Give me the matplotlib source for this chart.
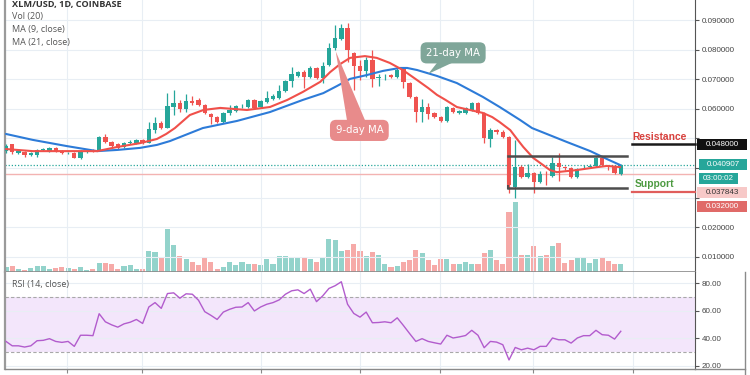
import matplotlib
matplotlib.use('Agg')
import matplotlib.pyplot as plt
import numpy as np
from matplotlib.patches import Rectangle, Polygon
from matplotlib.lines import Line2D

# ---------------- data ----------------
opens = [.0457, .0481, .0451, .0454, .0444, .0444, .0461, .0457, .0468, .0457,
         .0449, .0451, .0434, .0454, .0461, .0457, .0505, .0488, .0481, .0471,
         .0484, .0484, .0495, .0484, .0528, .0552, .0535, .0606, .0620, .0599,
         .0625, .0630, .0613, .0582, .0572, .0555, .0586, .0593, .0608, .0606,
         .0630, .0606, .0623, .0633, .0636, .0660, .0694, .0711, .0724, .0707,
         .0738, .0704, .0748, .0805, .0836, .0873, .0789, .0745, .0728, .0765,
         .0704, .0706, .0714, .0707, .0734, .0687, .0640, .0589, .0606, .0586,
         .0572, .0559, .0603, .0587, .0586, .0596, .0620, .0586, .0498, .0528,
         .0522, .0505, .0336, .0403, .0370, .0383, .0353, .0378, .0373, .0417,
         .0402, .0400, .0370, .0402, .0405, .0407, .0434, .0405, .0403, .0380]
highs = [.0481, .0481, .0461, .0457, .0454, .0464, .0468, .0471, .0471, .0461,
         .0454, .0454, .0461, .0461, .0464, .0508, .0515, .0491, .0484, .0488,
         .0495, .0498, .0498, .0555, .0572, .0559, .0653, .0664, .0630, .0650,
         .0643, .0636, .0616, .0586, .0576, .0589, .0613, .0613, .0616, .0633,
         .0633, .0630, .0660, .0650, .0680, .0697, .0741, .0728, .0731, .0745,
         .0741, .0758, .0822, .0883, .0886, .0890, .0792, .0765, .0775, .0799,
         .0718, .0718, .0718, .0738, .0738, .0691, .0643, .0633, .0620, .0589,
         .0576, .0609, .0606, .0596, .0606, .0623, .0623, .0589, .0535, .0532,
         .0528, .0508, .0495, .0410, .0414, .0386, .0390, .0390, .0437, .0451,
         .0407, .0403, .0400, .0410, .0414, .0437, .0437, .0407, .0407, .0414]
lows = [.0451, .0447, .0447, .0437, .0441, .0437, .0457, .0454, .0454, .0447,
        .0447, .0434, .0430, .0451, .0454, .0456, .0484, .0471, .0464, .0468,
        .0481, .0481, .0481, .0484, .0518, .0532, .0535, .0579, .0589, .0589,
        .0613, .0609, .0582, .0549, .0552, .0552, .0579, .0589, .0603, .0603,
        .0599, .0603, .0620, .0630, .0633, .0657, .0674, .0707, .0670, .0704,
        .0701, .0687, .0745, .0799, .0832, .0758, .0664, .0697, .0707, .0674,
        .0677, .0697, .0704, .0704, .0670, .0636, .0555, .0555, .0566, .0569,
        .0555, .0555, .0586, .0582, .0582, .0593, .0582, .0484, .0471, .0515,
        .0501, .0316, .0299, .0366, .0366, .0316, .0349, .0343, .0370, .0356,
        .0393, .0366, .0366, .0400, .0403, .0403, .0407, .0393, .0380, .0376]
closes = [.0474, .0454, .0457, .0444, .0451, .0461, .0464, .0468, .0457, .0451,
          .0452, .0434, .0457, .0457, .0457, .0505, .0488, .0474, .0468, .0484,
          .0488, .0495, .0484, .0532, .0552, .0535, .0609, .0620, .0599, .0626,
          .0621, .0613, .0586, .0572, .0555, .0586, .0596, .0609, .0611, .0630,
          .0603, .0626, .0636, .0643, .0660, .0694, .0718, .0724, .0707, .0738,
          .0704, .0745, .0805, .0839, .0873, .0799, .0745, .0728, .0765, .0701,
          .0707, .0709, .0707, .0731, .0691, .0640, .0589, .0606, .0582, .0572,
          .0559, .0606, .0589, .0591, .0603, .0620, .0586, .0501, .0528, .0522,
          .0505, .0343, .0403, .0370, .0383, .0353, .0380, .0375, .0417, .0403,
          .0399, .0370, .0397, .0405, .0408, .0434, .0410, .0402, .0383, .0409]
volumes = [5, 6, 2.7, 2.3, 4.3, 5.7, 5.7, 3.3, 3.7, 4.7,
           3.7, 3.3, 5, 2.3, 3, 9.3, 9, 7.7, 3.3, 5.7,
           7.3, 2.7, 2.7, 21.3, 19.7, 14, 42.7, 26.7, 16, 13.3,
           9.7, 7, 13.7, 10.3, 3.3, 4.7, 9.7, 7.3, 9.7, 8.3,
           7.7, 6.7, 12.7, 7.7, 16.3, 16.3, 14, 14, 14, 12.7,
           10, 14, 33.3, 32.3, 20.7, 21.7, 27.7, 20.7, 16, 19.7,
           17, 8.3, 5, 5.7, 10, 12.3, 22.3, 19, 11.7, 7.3,
           13, 12.7, 8.3, 8.3, 10.3, 7.7, 7.7, 19.3, 21.7, 11.7,
           8.3, 60, 70, 16.7, 16.7, 25.7, 15.7, 16.7, 25.7, 29,
           9, 12.3, 15, 15, 9, 13.3, 15, 11, 7.7, 8.3]
rsi = [37.7, 34.5, 34.5, 33.6, 34.5, 38.2, 38.5, 39.7, 37.7, 37.0,
       37.7, 34.1, 42.2, 42.2, 41.9, 57.9, 52.0, 49.8, 48.1, 50.5,
       51.7, 53.7, 50.8, 62.8, 66.0, 61.8, 72.6, 73.1, 69.2, 72.4,
       72.1, 67.7, 59.4, 56.7, 53.7, 59.1, 61.1, 62.6, 62.8, 66.0,
       59.9, 62.8, 64.8, 66.0, 68.0, 72.1, 74.6, 75.3, 72.6, 75.8,
       66.7, 70.9, 76.3, 78.3, 81.2, 64.8, 58.1, 55.4, 59.1, 51.3,
       51.5, 52.0, 51.3, 54.9, 49.3, 43.4, 37.7, 39.7, 37.7, 36.7,
       35.8, 42.2, 40.2, 41.0, 42.0, 45.8, 42.2, 33.1, 37.7, 37.2,
       35.3, 24.2, 33.3, 31.6, 32.8, 31.6, 34.1, 34.1, 40.2, 38.9,
       38.9, 36.5, 40.2, 41.9, 41.9, 45.8, 42.6, 42.2, 39.4, 45.1]
ma9_x = [0, 4.3, 9.8, 14.7, 17.9, 21.6, 24.3, 25.8, 27.2, 29.6, 31.8, 34.5, 38.8, 42.5, 45.3,
         47.8, 50.6, 52.2, 53.8, 55.4, 57.8, 59.7, 61.8, 63.9, 66.2, 68.0, 69.4, 70.7, 72.6, 74.7,
         76.8, 78.3, 79.5, 81.2, 82.4, 83.3, 84.9, 87.6, 88.7, 91.9, 95.2, 96.8, 98.9]
ma9 = [.0464, .0457, .0457, .0457, .0471, .0484, .0498, .0515, .0535, .0579, .0596, .0603, .0596, .0606, .0630,
       .0657, .0691, .0724, .0751, .0772, .0778, .0772, .0755, .0731, .0697, .0670, .0647, .0631, .0606, .0596,
       .0586, .0572, .0555, .0528, .0495, .0471, .0434, .0393, .0386, .0393, .0403, .0407, .0403]
ma21_x = [0, 4.3, 9.8, 14.7, 17.9, 21.6, 24.3, 26.4, 31.7, 37.2, 42.5, 47.8, 51.1, 53.3, 55.4,
          58.1, 60.7, 63.4, 64.6, 66.2, 69.4, 72.6, 76.8, 79.5, 82.8, 84.7, 90.3, 94.1, 96.8, 98.9]
ma21 = [.0515, .0495, .0474, .0457, .0461, .0468, .0478, .0491, .0535, .0559, .0589, .0630, .0653, .0677, .0701,
        .0714, .0728, .0738, .0738, .0731, .0711, .0687, .0640, .0606, .0562, .0535, .0488, .0457, .0430, .0410]
price_ticks = [0.01, 0.02, 0.03, 0.04, 0.05, 0.06, 0.07, 0.08, 0.09]
price_labels = ['0.010000', '0.020000', '', '', '', '0.060000', '0.070000', '0.080000', '0.090000']
rsi_ticks = [20, 40, 60, 80]
rsi_labels = ['20.00', '40.00', '60.00', '80.00']
date_grid = [9.8, 21.9, 41.1, 57.0, 69.9, 84.9, 101.0]
last_price = 0.040907
level_pink = 0.037843
resistance = 0.048
support = 0.032
channel_top, channel_bottom = 0.0441, 0.0332
channel_x0, channel_x1 = 80.8, 100.0
countdown = '03:00:02'

# ---------------- style ----------------
W, H = 750, 375
GREEN, RED = '#26a69a', '#ef5350'
VGREEN, VRED = '#93d3cb', '#f6aaa8'
GRID = '#e8eef4'
LBL = 'Liberation Sans'

fig = plt.figure(figsize=(7.5, 3.75), dpi=100)
fig.patch.set_facecolor('white')

def fx(x):
    return x / W

def fy(y):
    return 1 - y / H

L, R = 5, 695
MT, MB = 0, 272
RT, RB = 272, 369
ymin, ymax = 0.004865, 0.096757
xmin, xmax = -0.161, 110.95

axv = fig.add_axes([fx(L), fy(MB), (R - L) / W, (MB - MT) / H])
ax = fig.add_axes([fx(L), fy(MB), (R - L) / W, (MB - MT) / H])
axr = fig.add_axes([fx(L), fy(RB), (R - L) / W, (RB - RT) / H])
ax.patch.set_visible(False)

o = np.array(opens); h = np.array(highs); lo = np.array(lows); c = np.array(closes)
idx = np.arange(len(c))
up = c >= o
col = np.where(up, GREEN, RED)
vcol = np.where(up, VGREEN, VRED)

# volume
axv.bar(idx, volumes, width=0.82, color=vcol, linewidth=0)
axv.set_xlim(xmin, xmax)
axv.set_ylim(0, 272)
axv.axis('off')

# grid
for g in price_ticks:
    ax.axhline(g, color=GRID, lw=0.8, zorder=0)
for g in date_grid:
    ax.axvline(g, color=GRID, lw=0.8, zorder=0)
    axr.axvline(g, color=GRID, lw=0.8, zorder=0)

# level lines
ax.axhline(level_pink, color='#f3b3b2', lw=1.0, zorder=1)
ax.axhline(last_price, color=GREEN, lw=0.9, ls=(0, (1, 1.5)), zorder=1)

# candles
ax.vlines(idx, lo, h, colors=col, lw=0.9, zorder=3)
body_bot = np.minimum(o, c)
body_h = np.maximum(np.abs(c - o), 0.0003)
ax.bar(idx, body_h, bottom=body_bot, width=0.7, color=col, linewidth=0, zorder=4)

# moving averages
ax.plot(ma21_x, ma21, color='#2d7bd8', lw=1.5, zorder=5, solid_capstyle='round')
ax.plot(ma9_x, ma9, color='#f0504a', lw=1.5, zorder=5, solid_capstyle='round')

# channel
ax.plot([channel_x0, channel_x1], [channel_top, channel_top], color='#4d4d4d', lw=1.8, zorder=6)
ax.plot([channel_x0, channel_x1], [channel_bottom, channel_bottom], color='#4d4d4d', lw=1.8, zorder=6)
ax.plot([channel_x0, channel_x0], [channel_bottom, channel_top], color='#4d4d4d', lw=1.5, zorder=2)

# resistance / support
ax.plot([100.8, xmax], [resistance, resistance], color='#1a1a1a', lw=1.8, zorder=6, clip_on=False)
ax.plot([100.8, xmax], [support, support], color='#e05e5c', lw=1.6, zorder=6, clip_on=False)
ax.text(105.3, 0.0504, 'Resistance', color='#d8403c', fontsize=7.4, fontweight='bold',
        family=LBL, ha='center', va='center', zorder=7)
ax.text(104.5, 0.0346, 'Support', color='#4c9a40', fontsize=7.4, fontweight='bold',
        family=LBL, ha='center', va='center', zorder=7)

# MA callouts
ax.add_patch(Polygon([(69.4, 0.0755), (71.8, 0.0755), (68.0, 0.0718)], closed=True,
                     fc='#7fa699', ec='none', zorder=7))
ax.text(72.0, 0.0789, '21-day MA', color='white', fontsize=7.3, ha='center', va='center', zorder=8,
        bbox=dict(boxstyle='round,pad=0.55,rounding_size=0.6', fc='#7fa699', ec='none'))
ax.add_patch(Polygon([(54.9, 0.0562), (57.8, 0.0562), (53.1, 0.0794)], closed=True,
                     fc='#e88b8b', ec='none', zorder=7))
ax.text(56.9, 0.0527, '9-day MA', color='white', fontsize=7.3, ha='center', va='center', zorder=8,
        bbox=dict(boxstyle='round,pad=0.55,rounding_size=0.6', fc='#e88b8b', ec='none'))

ax.set_xlim(xmin, xmax)
ax.set_ylim(ymin, ymax)
ax.yaxis.tick_right()
ax.set_yticks(price_ticks)
ax.set_yticklabels(price_labels, family=LBL)
ax.tick_params(axis='y', direction='out', length=3, width=0.8, colors='#555', labelsize=5.8,
               pad=2, labelcolor='#444')
ax.set_xticks([])
ax.spines['top'].set_visible(False)
ax.spines['left'].set_color('#9a9a9a'); ax.spines['left'].set_linewidth(1.6)
ax.spines['right'].set_color('#555'); ax.spines['right'].set_linewidth(0.8)
ax.spines['bottom'].set_color('#8a8a8a'); ax.spines['bottom'].set_linewidth(1.2)

# RSI
axr.axhspan(30, 70, color='#f3e6fb', zorder=0, lw=0)
for g in rsi_ticks:
    axr.axhline(g, color=GRID, lw=0.8, zorder=1)
axr.axhline(70, color='#a8a8a8', lw=0.8, ls=(0, (3, 2)), zorder=2)
axr.axhline(30, color='#a8a8a8', lw=0.8, ls=(0, (3, 2)), zorder=2)
axr.plot(idx, rsi, color='#b25ccd', lw=1.0, zorder=3)
axr.set_xlim(xmin, xmax)
axr.set_ylim(17.6, 88.3)
axr.yaxis.tick_right()
axr.set_yticks(rsi_ticks)
axr.set_yticklabels(rsi_labels, family=LBL)
axr.tick_params(axis='y', direction='out', length=3, width=0.8, colors='#555', labelsize=5.8,
                pad=2, labelcolor='#444')
axr.set_xticks(date_grid)
axr.set_xticklabels([])
axr.tick_params(axis='x', direction='out', length=3, width=0.8, colors='#888')
axr.spines['top'].set_visible(False)
axr.spines['left'].set_color('#9a9a9a'); axr.spines['left'].set_linewidth(1.6)
axr.spines['right'].set_color('#555'); axr.spines['right'].set_linewidth(0.8)
axr.spines['bottom'].set_color('#8a8a8a'); axr.spines['bottom'].set_linewidth(1.0)

# frame of the lower-right corner
fig.add_artist(Line2D([fx(745), fx(745)], [fy(272), fy(375)], color='#8a8a8a', lw=1.0))
fig.add_artist(Line2D([fx(695), fx(745)], [fy(369), fy(369)], color='#8a8a8a', lw=1.0))

# price label boxes
def py(p):
    return MT + (ymax - p) / (ymax - ymin) * (MB - MT)

def box(x0, x1, yc, hgt, fc, text, tc):
    fig.add_artist(Rectangle((fx(x0), fy(yc + hgt / 2)), (x1 - x0) / W, hgt / H,
                             transform=fig.transFigure, fc=fc, ec='none', zorder=10))
    fig.text(fx((x0 + x1) / 2), fy(yc), text, color=tc, fontsize=5.8, family=LBL,
             ha='center', va='center', zorder=11)

yc_last = py(last_price) - 1
box(697, 747, py(resistance), 11, '#111111', f'{resistance:.6f}', 'white')
box(699, 747, yc_last, 10.5, GREEN, f'{last_price:.6f}', 'white')
box(699, 738, yc_last + 14.2, 11, GREEN, countdown, 'white')
box(697, 747, yc_last + 28, 10.5, '#f7c9c8', f'{level_pink:.6f}', '#333333')
box(697, 747, yc_last + 42, 11, '#e06a68', f'{support:.6f}', 'white')

# legends
fig.text(fx(12), fy(5), 'XLM/USD, 1D, COINBASE', fontsize=6.6, fontweight='bold', color='#333',
         family='Open Sans', va='center', ha='left')
for yy, t in [(16.5, 'Vol (20)'), (29.5, 'MA (9, close)'), (42.7, 'MA (21, close)'),
              (285, 'RSI (14, close)')]:
    fig.text(fx(12), fy(yy), t, fontsize=6.5, color='#555', family='Open Sans', va='center', ha='left')

fig.savefig('out.png', dpi=100, facecolor='white')
